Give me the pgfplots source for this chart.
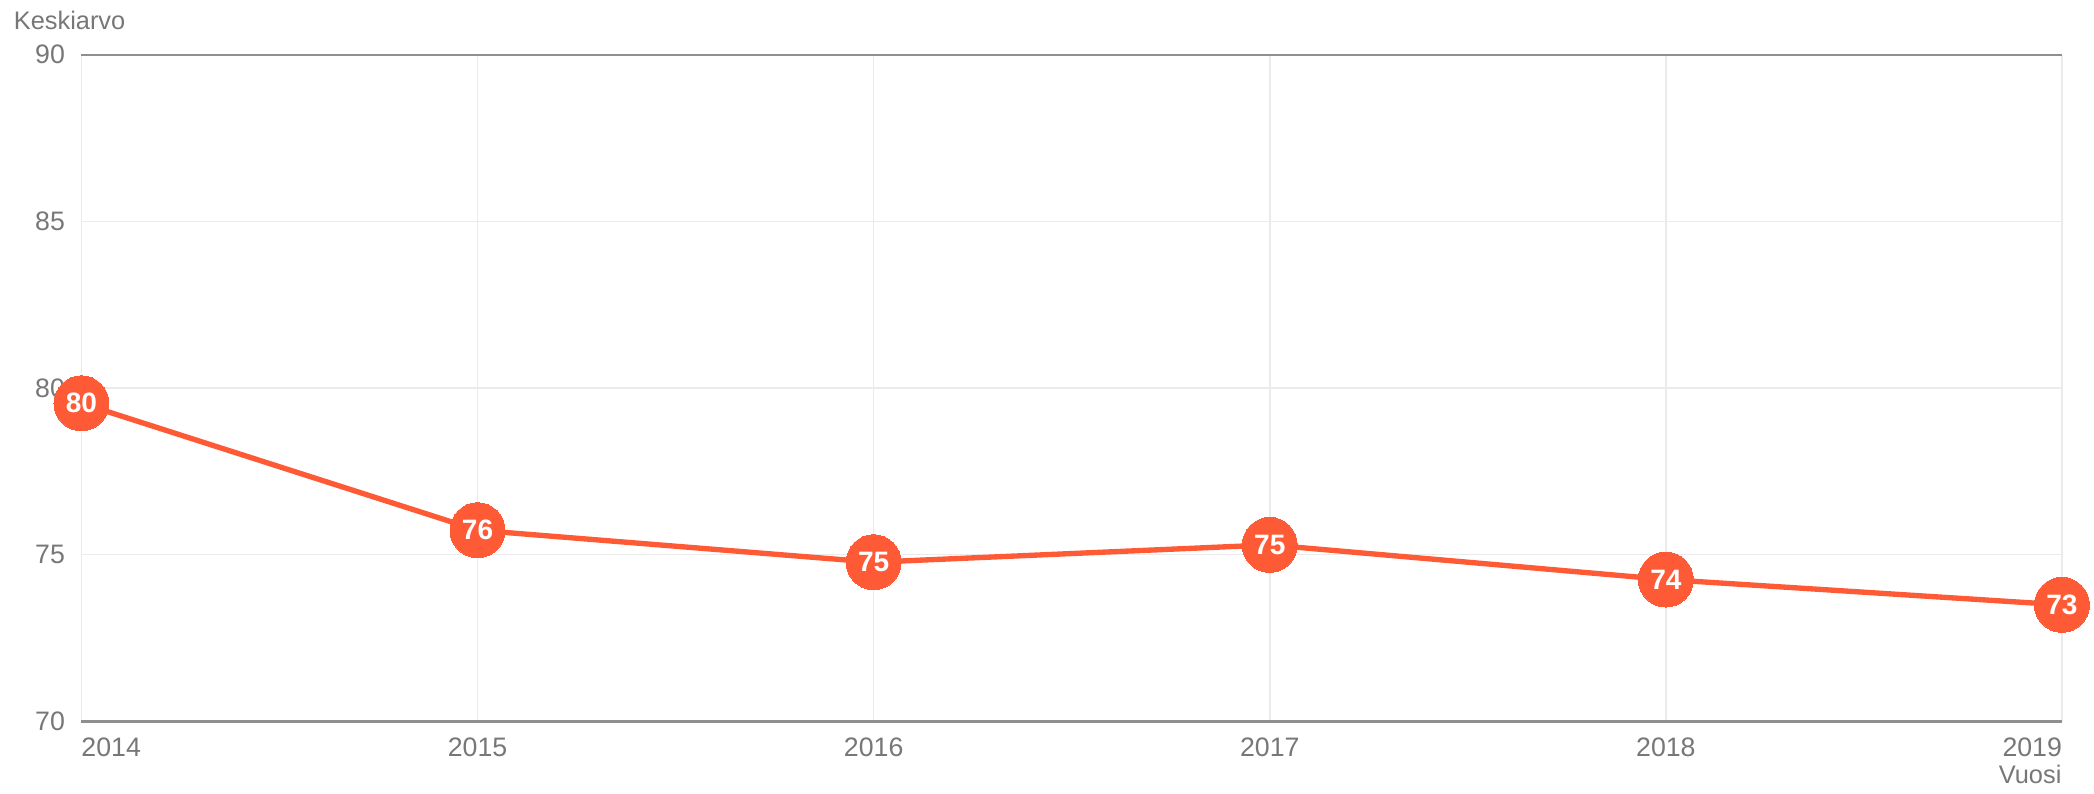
\documentclass[border=0pt]{standalone}
\usepackage{pgfplots}
\pgfplotsset{compat=1.18}
\usepackage{fontspec}
\setmainfont{Liberation Sans}
\definecolor{linec}{HTML}{FF5A36}
\definecolor{tickc}{HTML}{777777}
\definecolor{gridc}{HTML}{EBEBEB}
\definecolor{axc}{HTML}{8F8F8F}
\begin{document}
\begin{tikzpicture}
\path[use as bounding box] (0,0) rectangle (784pt,297pt);
\begin{axis}[
  at={(30.5pt,27pt)}, anchor=south west,
  scale only axis, width=741.5pt, height=249.5pt,
  xmin=2014, xmax=2019, ymin=70, ymax=90,
  xtick={2014,2015,2016,2017,2018,2019},
  xticklabels={\rlap{2014},2015,2016,2017,2018,\llap{2019}},
  ytick={70,75,80,85,90},
  major tick length=0pt,
  axis line style={draw=none},
  grid=major,
  major grid style={gridc, line width=0.6pt},
  tick label style={font=\fontsize{10}{12}\selectfont, text=tickc},
  xticklabel style={inner sep=0pt, anchor=north, yshift=-6pt},
  yticklabel style={inner sep=0pt, anchor=east, xshift=-6pt},
  /pgf/number format/assume math mode=true,
  clip=false,
]
\draw[axc, line width=0.6pt] (rel axis cs:0,1) -- (rel axis cs:1,1);
\draw[axc, line width=1.2pt] (rel axis cs:0,0) -- (rel axis cs:1,0);
\node[anchor=base west, inner sep=0pt, text=tickc, font=\fontsize{9.5}{11}\selectfont, xshift=-25.5pt, yshift=9.5pt] at (rel axis cs:0,1) {Keskiarvo};
\node[anchor=base east, inner sep=0pt, text=tickc, font=\fontsize{9.5}{11}\selectfont, yshift=-23.5pt] at (rel axis cs:1,0) {Vuosi};
\addplot[color=linec, line width=2pt, mark=*, mark size=10.3pt, mark options={fill=linec, draw=linec, line width=0pt},
  point meta=y,
  nodes near coords={\pgfmathprintnumber[fixed,precision=0]{\pgfplotspointmeta}},
  nodes near coords style={anchor=center, text=white, font=\bfseries\fontsize{10.5}{12}\selectfont, inner sep=0pt, /pgf/number format/assume math mode=true},
] table {
x y
2014 79.54
2015 75.73
2016 74.77
2017 75.29
2018 74.25
2019 73.49
};
\end{axis}
\end{tikzpicture}
\end{document}
